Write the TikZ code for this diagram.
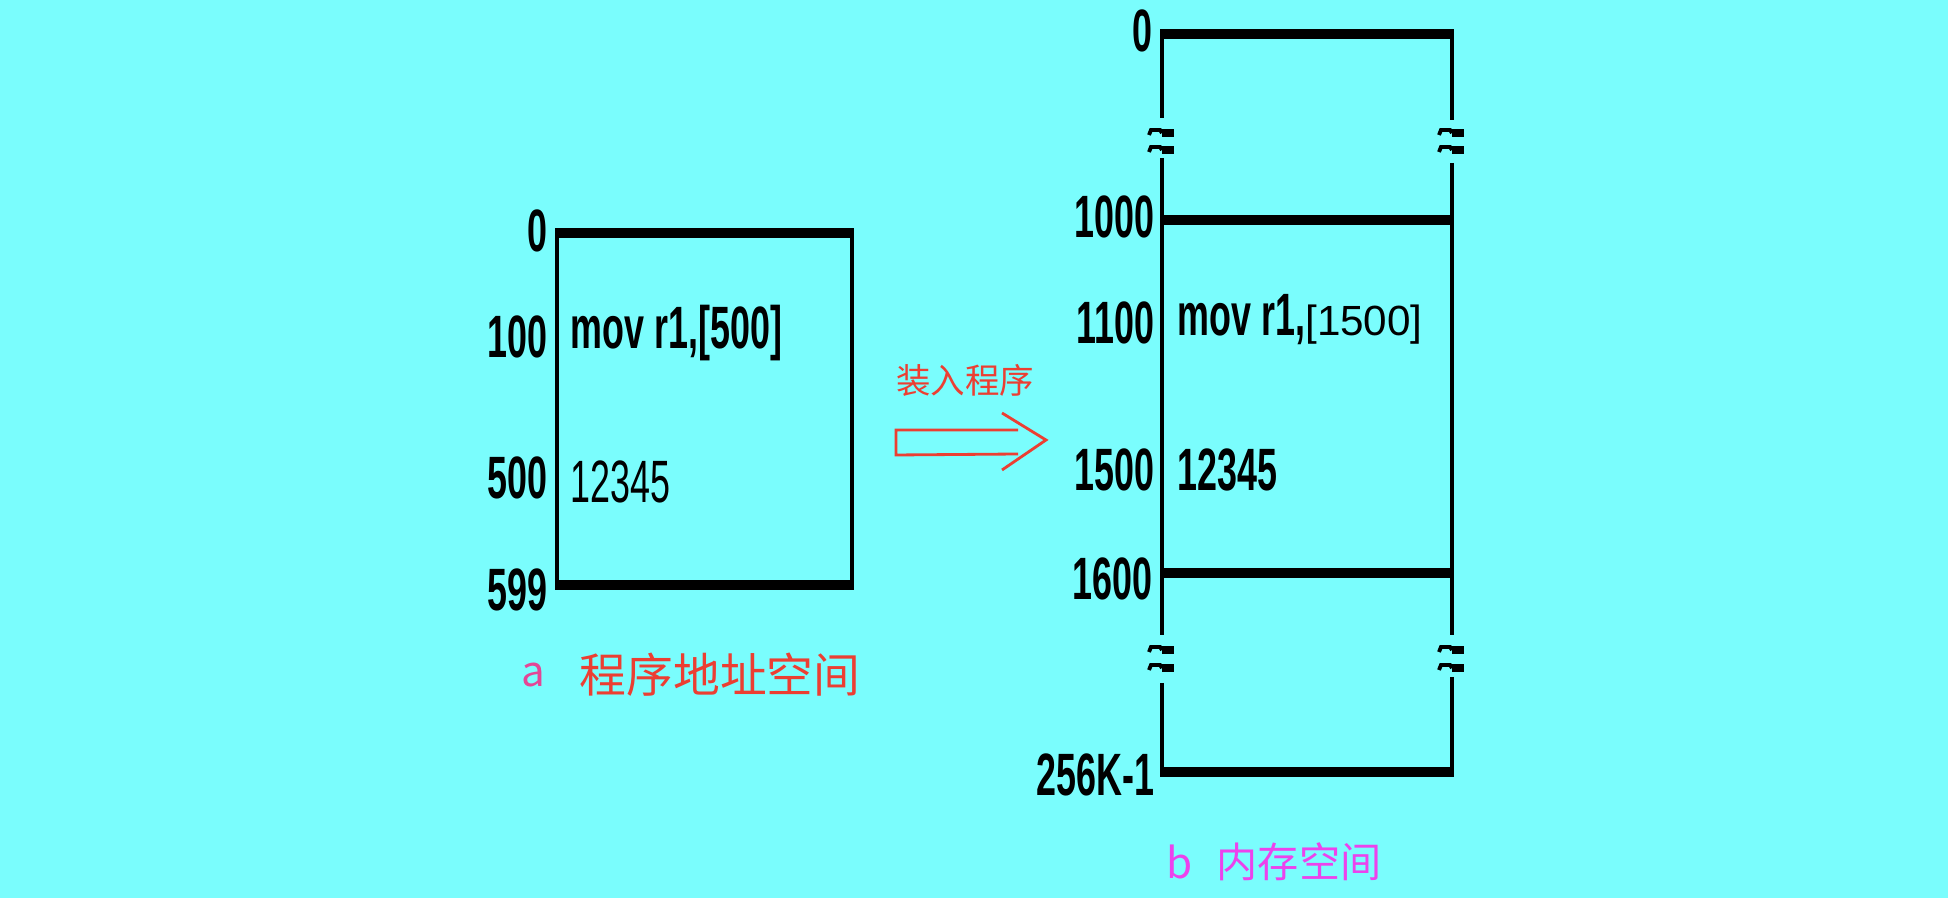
\documentclass[tikz,border=0pt]{standalone}
\usepackage{fontspec}
\usepackage{graphicx}
\setmainfont{Liberation Sans}
\newfontfamily\cjk{Noto Sans CJK SC}
\definecolor{fond}{RGB}{122,253,253}
\definecolor{rouge}{RGB}{236,62,50}
\definecolor{rose}{RGB}{236,66,236}
\definecolor{rosea}{RGB}{228,70,150}
\newcommand{\etroit}[1]{\scalebox{0.6}[1]{#1}}
\tikzset{
  adr/.style={anchor=east,inner sep=0pt,font=\bfseries\fontsize{17}{17}\selectfont},
  contenu/.style={anchor=west,inner sep=0pt,font=\bfseries\fontsize{17}{17}\selectfont},
  trait/.style={line width=1.4pt},
  bord/.style={line width=2.6pt},
}
\begin{document}
\begin{tikzpicture}[x=0.01cm,y=-0.01cm]
% Fond
\fill[fond] (0,0) rectangle (1948,898);

% Espace d'adresses du programme
\draw[trait] (557,233) -- (557,585);
\draw[trait] (852,233) -- (852,585);
\draw[bord] (555,233) -- (854,233);
\draw[bord] (555,585) -- (854,585);
\node[adr] (ga0) at (548,231) {\etroit{0}};
\node[adr] (ga100) at (548,337) {\etroit{100}};
\node[adr] (ga500) at (548,478) {\etroit{500}};
\node[adr] (ga599) at (548,590) {\etroit{599}};
\node[contenu] (gmov) at (570,333) {\etroit{mov r1,[500]}};
\node[contenu,font=\fontsize{17}{17}\selectfont] (gval) at (570,482) {\etroit{12345}};

% Fleche de chargement
\node[rouge,font=\cjk\fontsize{9.8}{10}\selectfont] (charge) at (965,380) {装入程序};
\draw[rouge,line width=0.8pt] (1018,430) -- (896,430) -- (896,455) -- (1018,454);
\draw[rouge,line width=0.8pt] (1002,413) -- (1046,440) -- (1002,470);

% Espace memoire
\draw[trait] (1162,34) -- (1162,118);
\draw[trait] (1162,158) -- (1162,635);
\draw[trait] (1162,683) -- (1162,772);
\draw[trait] (1452,34) -- (1452,120);
\draw[trait] (1452,163) -- (1452,635);
\draw[trait] (1452,677) -- (1452,772);
\foreach \yy in {34,220,573,772}
  \draw[bord] (1160,\yy) -- (1454,\yy);

% Coupures
\foreach \xx in {1162,1452}
  \foreach \yy in {133,150,650,668}
  {
    \draw[line width=1.1pt,shift={(\xx,\yy)}] (-13,2) -- (-11,-3) -- (-2,-3) -- (0,0);
    \draw[line width=2pt,shift={(\xx,\yy)}] (0,0) -- (12,0);
  }

\node[adr] (m0) at (1153,31) {\etroit{0}};
\node[adr] (m1000) at (1155,217) {\etroit{1000}};
\node[adr] (m1100) at (1155,323) {\etroit{1100}};
\node[adr] (m1500) at (1155,470) {\etroit{1500}};
\node[adr] (m1600) at (1153,579) {\etroit{1600}};
\node[adr] (mfin) at (1155,775) {\etroit{256K-1}};
\node[contenu] (mmov) at (1177,320) {\etroit{mov r1,}{\mdseries\fontsize{12}{12}\selectfont[1500]}};
\node[contenu] (mval) at (1177,470) {\etroit{12345}};

% Legendes
\node[rosea,anchor=west,inner sep=0pt,font=\cjk\fontsize{12}{12}\selectfont] (lega) at (521,675) {a};
\node[rouge,anchor=west,inner sep=0pt,font=\cjk\fontsize{13.3}{14}\selectfont] (titrea) at (579,675) {程序地址空间};
\node[rose,anchor=west,inner sep=0pt,font=\cjk\fontsize{12}{12}\selectfont] (legb) at (1166,862) {b};
\node[rose,anchor=west,inner sep=0pt,font=\cjk\fontsize{11.7}{12}\selectfont] (titreb) at (1216,862) {内存空间};
\end{tikzpicture}
\end{document}
